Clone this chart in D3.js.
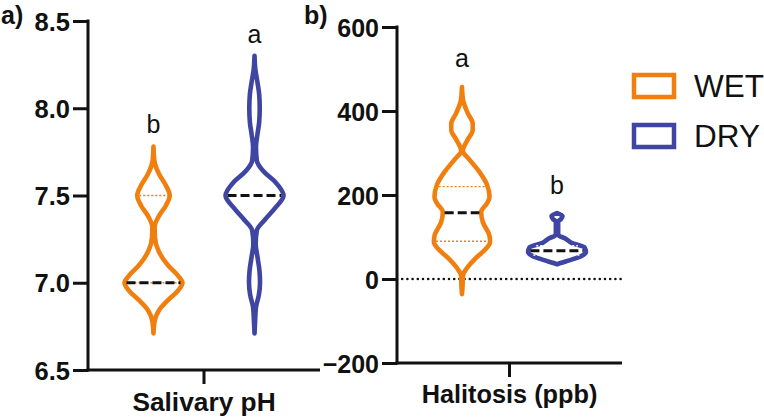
<!DOCTYPE html>
<html><head><meta charset="utf-8">
<script src="https://cdn.jsdelivr.net/npm/d3@7"></script>
<style>body{margin:0;background:#fff}svg{display:block}</style>
</head><body><svg id="c" width="764" height="420"></svg>
<script>
// ---------- data ----------
const groups = ["WET", "DRY"];
const colors = {WET: "#F07F10", DRY: "#3E45A2"};
const letters = {
  ph: {WET: "b", DRY: "a"},
  hal: {WET: "a", DRY: "b"}
};
// violin outlines: [value, relative half-width]
const phWet = [[7.78,0],[7.7,0.03],[7.62,0.2],[7.56,0.42],[7.5,0.56],[7.44,0.42],[7.38,0.18],[7.32,0.04],[7.26,0.05],[7.18,0.18],[7.1,0.5],[7.04,0.85],[7.0,1.0],[6.95,0.82],[6.9,0.5],[6.84,0.18],[6.78,0.04],[6.71,0]];
const phDry = [[8.3,0],[8.22,0.03],[8.15,0.1],[8.08,0.16],[8.0,0.18],[7.92,0.16],[7.85,0.1],[7.78,0.05],[7.7,0.08],[7.64,0.3],[7.58,0.7],[7.5,1.0],[7.43,0.72],[7.36,0.35],[7.3,0.08],[7.22,0.04],[7.15,0.1],[7.07,0.17],[7.0,0.19],[6.93,0.15],[6.86,0.05],[6.78,0.02],[6.71,0]];
const halWet = [[457,0],[425,0.04],[395,0.2],[370,0.37],[355,0.37],[330,0.18],[305,0.03],[285,0.25],[255,0.6],[225,0.86],[195,0.95],[180,0.86],[160,0.66],[135,0.72],[105,0.94],[88,0.97],[70,0.8],[48,0.45],[25,0.16],[8,0.03],[-15,0.02],[-36,0]];
const halDry = [[157,0],[150,0.19],[143,0.14],[137,0.04],[105,0.04],[96,0.3],[86,0.5],[75,0.95],[64,1.0],[55,0.85],[45,0.45],[38,0.12],[35,0]];
// summary lines: [median, q1, q3]
const phStats = {WET: [7.0, 7.0, 7.5], DRY: [7.5, 7.5, 7.5]};
const halStats = {WET: [158, 90, 220], DRY: [67, 57, 79]};
const phTicks = [6.5, 7.0, 7.5, 8.0, 8.5];
const halTicks = [-200, 0, 200, 400, 600];
const phTitle = "Salivary pH";
const halTitle = "Halitosis (ppb)";

// ---------- drawing ----------
const svg = d3.select("#c");
const FONT = "'Liberation Sans', Arial, sans-serif";
const wScale = d3.scaleLinear().domain([0, 1]).range([0, 29]);

function halfAt(profile, v) {
  for (let i = 0; i < profile.length - 1; i++) {
    const a = profile[i], b = profile[i + 1];
    if ((v <= a[0] && v >= b[0])) {
      const t = (a[0] - v) / (a[0] - b[0]);
      return a[1] + t * (b[1] - a[1]);
    }
  }
  return 0;
}

function panel(opts) {
  const {x0, x1, yTop, yBot, domain, ticks, fmt, title, data, stats, lett, lettY, pad, label, labelX, zeroLine, tickFs, titleFs} = opts;
  const y = d3.scaleLinear().domain(domain).range([yBot, yTop]);
  const xp = d3.scalePoint().domain(groups).range([x0, x1]).padding(pad);
  const xb = d3.scaleBand().domain([title]).range([x0, x1]);
  const g = svg.append("g");

  if (zeroLine) {
    g.append("line").attr("x1", x0).attr("x2", x1).attr("y1", y(0)).attr("y2", y(0))
      .attr("stroke", "#111").attr("stroke-width", 2.6).attr("stroke-linecap", "round")
      .attr("stroke-dasharray", "0,5.2");
  }

  groups.forEach(k => {
    const cx = xp(k), prof = data[k];
    const area = d3.area().y(d => y(d[0]))
      .x0(d => cx - wScale(d[1])).x1(d => cx + wScale(d[1]))
      .curve(d3.curveMonotoneY);
    g.append("path").attr("d", area(prof)).attr("fill", "#fff")
      .attr("stroke", colors[k]).attr("stroke-width", 4.6).attr("stroke-linejoin", "round");
    const [med, q1, q3] = stats[k];
    [q1, q3].forEach(q => {
      const hw = Math.max(wScale(halfAt(prof, q)) - 2, 0);
      g.append("line").attr("x1", cx - hw).attr("x2", cx + hw).attr("y1", y(q)).attr("y2", y(q))
        .attr("stroke", k === "WET" ? colors[k] : "#fff").attr("stroke-width", 1.4)
        .attr("stroke-dasharray", "2,2");
    });
    const hm = Math.max(wScale(halfAt(prof, med)) - 2, 0);
    g.append("line").attr("x1", cx - hm).attr("x2", cx + hm).attr("y1", y(med)).attr("y2", y(med))
      .attr("stroke", "#111").attr("stroke-width", 3).attr("stroke-dasharray", "9,4");
    g.append("text").attr("x", cx).attr("y", lettY[k]).attr("text-anchor", "middle")
      .attr("font-family", FONT).attr("font-size", 25).attr("fill", "#111").text(lett[k]);
  });

  const ya = g.append("g").attr("transform", `translate(${x0},0)`)
    .call(d3.axisLeft(y).tickValues(ticks).tickFormat(fmt).tickSize(15).tickSizeOuter(0).tickPadding(3));
  const xa = g.append("g").attr("transform", `translate(0,${yBot})`)
    .call(d3.axisBottom(xb).tickSize(14).tickSizeOuter(0).tickPadding(8));
  [ya, xa].forEach(a => {
    a.select(".domain").attr("stroke", "#111").attr("stroke-width", 3);
    a.selectAll(".tick line").attr("stroke", "#111").attr("stroke-width", 3);
    a.selectAll("text").attr("font-family", FONT).attr("font-weight", "bold").attr("fill", "#111");
  });
  ya.selectAll("text").attr("font-size", tickFs).attr("dy", "0.36em");
  xa.selectAll("text").attr("font-size", titleFs);
  ya.select(".domain").attr("d", `M0,${yTop - 1.5}V${yBot + 1.5}`);
  xa.select(".domain").attr("d", `M${x0 - 1.5},0H${x1}`);

  svg.append("text").attr("x", labelX).attr("y", 24).attr("font-family", FONT)
    .attr("font-weight", "bold").attr("font-size", 25).attr("fill", "#111").text(label);
}

panel({x0: 88, x1: 320, yTop: 21, yBot: 370, domain: [6.5, 8.5], ticks: phTicks,
  fmt: d3.format(".1f"), title: phTitle, data: {WET: phWet, DRY: phDry}, stats: phStats,
  lett: letters.ph, lettY: {WET: 133, DRY: 43}, pad: 0.648, label: "a)", labelX: 1, zeroLine: false,
  tickFs: 25.5, titleFs: 26.3});
panel({x0: 397, x1: 622, yTop: 27, yBot: 363, domain: [-200, 600], ticks: halTicks,
  fmt: d3.format("d"), title: halTitle, data: {WET: halWet, DRY: halDry}, stats: halStats,
  lett: letters.hal, lettY: {WET: 67, DRY: 194}, pad: 0.684, label: "b)", labelX: 304, zeroLine: true,
  tickFs: 25, titleFs: 25.3});

// legend
const leg = svg.append("g");
groups.forEach((k, i) => {
  leg.append("rect").attr("x", 634).attr("y", 75 + i * 50).attr("width", 40).attr("height", 22)
    .attr("fill", "#fff").attr("stroke", colors[k]).attr("stroke-width", 4.5);
  leg.append("text").attr("x", 694).attr("y", 97 + i * 50).attr("font-family", FONT)
    .attr("font-size", 31.5).attr("fill", "#111").text(k);
});
</script></body></html>
